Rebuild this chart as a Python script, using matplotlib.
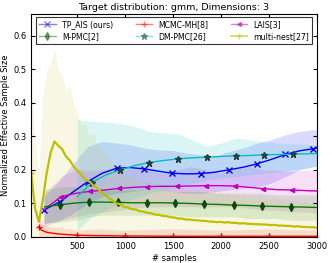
import numpy as np
import matplotlib
matplotlib.use('Agg')
import matplotlib.pyplot as plt

# TP_AIS (ours)
tp_x = [150, 320, 460, 610, 760, 910, 1050, 1200, 1350, 1490, 1640, 1790, 1930, 2080, 2230, 2375, 2520, 2670, 2820, 2960, 3000]
tp_y = [0.08, 0.105, 0.135, 0.165, 0.19, 0.205, 0.207, 0.203, 0.196, 0.19, 0.188, 0.189, 0.193, 0.2, 0.208, 0.218, 0.231, 0.246, 0.257, 0.263, 0.265]
tp_lo = [0.04, 0.05, 0.07, 0.1, 0.12, 0.13, 0.135, 0.14, 0.14, 0.135, 0.13, 0.13, 0.135, 0.14, 0.145, 0.15, 0.16, 0.18, 0.2, 0.21, 0.21]
tp_hi = [0.12, 0.17, 0.22, 0.27, 0.285, 0.28, 0.275, 0.265, 0.26, 0.258, 0.25, 0.245, 0.24, 0.255, 0.265, 0.28, 0.29, 0.305, 0.315, 0.32, 0.32]

# MCMC-MH[8]
mh_x = [100, 130, 170, 220, 300, 400, 500, 700, 1000, 1500, 2000, 2500, 3000]
mh_y = [0.03, 0.02, 0.015, 0.012, 0.009, 0.007, 0.005, 0.004, 0.003, 0.002, 0.002, 0.002, 0.002]
mh_lo = [-0.02] * 13
mh_hi = [0.06, 0.045, 0.035, 0.03, 0.028, 0.025, 0.02, 0.024, 0.02, 0.025, 0.02, 0.024, 0.02]

# LAIS[3]
la_x = [150, 330, 480, 630, 790, 940, 1090, 1230, 1380, 1540, 1690, 1840, 1990, 2140, 2290, 2440, 2590, 2740, 2890, 3000]
la_y = [0.08, 0.12, 0.13, 0.136, 0.14, 0.145, 0.148, 0.15, 0.151, 0.151, 0.152, 0.153, 0.153, 0.152, 0.148, 0.144, 0.141, 0.14, 0.138, 0.137]
la_lo = [0.03, 0.05, 0.06, 0.07, 0.075, 0.08, 0.085, 0.09, 0.09, 0.09, 0.09, 0.09, 0.09, 0.09, 0.085, 0.08, 0.08, 0.075, 0.075, 0.07]
la_hi = [0.13, 0.18, 0.2, 0.2, 0.2, 0.2, 0.205, 0.2, 0.19, 0.2, 0.21, 0.2, 0.19, 0.2, 0.21, 0.2, 0.2, 0.195, 0.2, 0.2]

# M-PMC[2]
mp_x = [160, 320, 470, 625, 775, 925, 1075, 1225, 1375, 1520, 1670, 1825, 1975, 2130, 2280, 2425, 2575, 2725, 2875, 3000]
mp_y = [0.09, 0.096, 0.101, 0.104, 0.104, 0.103, 0.102, 0.102, 0.102, 0.101, 0.1, 0.098, 0.097, 0.095, 0.094, 0.092, 0.091, 0.09, 0.089, 0.088]
mp_lo = [0.04, 0.045, 0.05, 0.06, 0.065, 0.065, 0.065, 0.065, 0.065, 0.065, 0.06, 0.06, 0.06, 0.06, 0.055, 0.055, 0.055, 0.05, 0.05, 0.05]
mp_hi = [0.14, 0.15, 0.15, 0.145, 0.14, 0.14, 0.14, 0.14, 0.14, 0.135, 0.135, 0.135, 0.13, 0.13, 0.13, 0.13, 0.125, 0.125, 0.125, 0.125]

# DM-PMC[26]
dm_x = [500, 650, 800, 950, 1100, 1250, 1400, 1555, 1700, 1855, 2000, 2155, 2300, 2450, 2600, 2750, 2900, 3000]
dm_y = [0.12, 0.162, 0.185, 0.2, 0.213, 0.222, 0.228, 0.233, 0.236, 0.238, 0.24, 0.242, 0.243, 0.245, 0.246, 0.247, 0.248, 0.249]
dm_lo = [0.02, 0.06, 0.08, 0.1, 0.115, 0.13, 0.14, 0.15, 0.16, 0.17, 0.175, 0.18, 0.185, 0.19, 0.195, 0.2, 0.205, 0.21]
dm_hi = [0.35, 0.345, 0.343, 0.338, 0.33, 0.315, 0.31, 0.307, 0.29, 0.27, 0.28, 0.295, 0.29, 0.284, 0.28, 0.278, 0.276, 0.275]

# multi-nest[27]
mn_y = [0.19, 0.085, 0.045, 0.11, 0.19, 0.25, 0.285, 0.272, 0.262, 0.24,
        0.228, 0.21, 0.197, 0.186, 0.17, 0.166, 0.155, 0.146, 0.135, 0.127,
        0.116, 0.11, 0.1, 0.098, 0.09, 0.088, 0.083, 0.082, 0.077, 0.076,
        0.072, 0.071, 0.067, 0.066, 0.063, 0.062, 0.059, 0.058, 0.055, 0.055,
        0.052, 0.052, 0.05, 0.05, 0.048, 0.048, 0.046, 0.046, 0.044, 0.045,
        0.043, 0.044, 0.042, 0.042, 0.04, 0.041, 0.039, 0.039, 0.038, 0.038,
        0.037, 0.037, 0.035, 0.036, 0.034, 0.034, 0.033, 0.033, 0.031, 0.032,
        0.03, 0.03, 0.029, 0.029, 0.028]
mn_hi = [0.44, 0.3, 0.18, 0.42, 0.5, 0.52, 0.56, 0.5, 0.48, 0.44,
         0.45, 0.4, 0.37, 0.33, 0.34, 0.3, 0.31, 0.28, 0.27, 0.25,
         0.24, 0.22, 0.21, 0.2, 0.19, 0.185, 0.18, 0.175, 0.17, 0.165,
         0.16, 0.165, 0.155, 0.16, 0.15, 0.155, 0.145, 0.15, 0.14, 0.15,
         0.14, 0.145, 0.135, 0.145, 0.135, 0.14, 0.13, 0.14, 0.13, 0.135,
         0.125, 0.135, 0.125, 0.13, 0.12, 0.13, 0.12, 0.125, 0.115, 0.125,
         0.115, 0.12, 0.11, 0.12, 0.11, 0.115, 0.105, 0.115, 0.105, 0.11,
         0.1, 0.11, 0.1, 0.105, 0.1]
mn_x = np.linspace(20, 3000, len(mn_y))
mn_lo = [-0.05] * len(mn_y)

plt.rcParams['font.family'] = ['DejaVu Sans']
plt.rcParams['font.size'] = 6

fig = plt.figure(figsize=(3.32, 2.63), dpi=100)
ax = fig.add_axes([0.094, 0.099, 0.861, 0.848])

fills = [(tp_x, tp_lo, tp_hi, 'b', 0.14), (mh_x, mh_lo, mh_hi, 'r', 0.12), (la_x, la_lo, la_hi, 'm', 0.12),
         (mp_x, mp_lo, mp_hi, 'g', 0.12), (dm_x, dm_lo, dm_hi, 'c', 0.14), (mn_x, mn_lo, mn_hi, 'y', 0.11)]
for x, lo, hi, col, a in fills:
    ax.fill_between(x, lo, hi, color=col, alpha=a, linewidth=0)

l_tp, = ax.plot(tp_x, tp_y, 'b-', marker='x', ms=4, lw=1, markevery=[0, 1, 3, 5, 7, 9, 11, 13, 15, 17, 19], label='TP_AIS (ours)')
l_mh, = ax.plot(mh_x, mh_y, 'r-', marker='+', ms=4, lw=1, markevery=[0, 6, 8, 9, 10, 11], label='MCMC-MH[8]')
l_la, = ax.plot(la_x, la_y, 'm-', marker='<', ms=3, lw=1, markevery=[1, 3, 5, 7, 9, 11, 13, 15, 17], label='LAIS[3]')
l_mp, = ax.plot(mp_x, mp_y, '-', color='g', marker='d', mfc='#0a4a0a', mec='#0a4a0a', ms=4, lw=1,
                markevery=[1, 3, 5, 7, 9, 11, 13, 15, 17], label='M-PMC[2]')
l_dm, = ax.plot(dm_x, dm_y, 'c-', marker='*', mfc='#1f5a4f', mec='#1f3f3f', ms=4.5, lw=1,
                markevery=[1, 3, 5, 7, 9, 11, 13, 15], label='DM-PMC[26]')
l_mn, = ax.plot(mn_x, mn_y, 'y-', marker='+', ms=4, lw=1.6, markevery=100, label='multi-nest[27]')

ax.set_xlim(20, 3000)
ax.set_ylim(0, 0.665)
ax.set_xticks([500, 1000, 1500, 2000, 2500, 3000])
ax.set_yticks([0.0, 0.1, 0.2, 0.3, 0.4, 0.5, 0.6])
ax.tick_params(direction='in', top=True, right=True, labelsize=6, length=3)
ax.set_xlabel('# samples', fontsize=6, labelpad=2)
ax.set_ylabel('Normalized Effective Sample Size', fontsize=6, labelpad=2)
ax.set_title('Target distribution: gmm, Dimensions: 3', fontsize=6.8, pad=3)

# legend filled row by row: TP_AIS, MCMC-MH, LAIS / M-PMC, DM-PMC, multi-nest
handles = [l_tp, l_mp, l_mh, l_dm, l_la, l_mn]
leg = ax.legend(handles=handles, labels=[h.get_label() for h in handles],
                loc='upper center', ncol=3, fontsize=5.6, frameon=True, fancybox=False,
                handlelength=2.1, columnspacing=2.9, borderaxespad=0.35, borderpad=0.45,
                labelspacing=0.35, handletextpad=0.8)
leg.get_frame().set_edgecolor('black')
leg.get_frame().set_linewidth(0.8)
for h in leg.get_lines():
    h.set_alpha(0.5)

fig.savefig('out.png', dpi=100)
